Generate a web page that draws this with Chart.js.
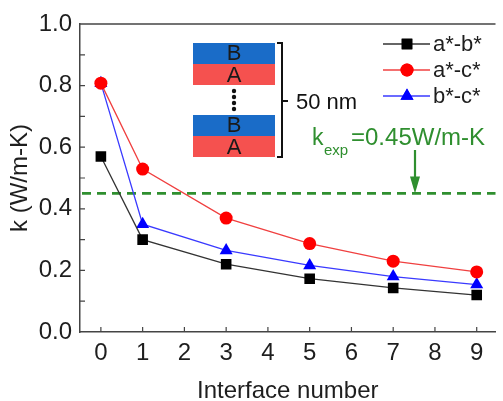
<!DOCTYPE html>
<html>
<head>
<meta charset="utf-8">
<script src="https://cdn.jsdelivr.net/npm/chart.js@4.4.0/dist/chart.umd.min.js"></script>
<style>
  html, body { margin: 0; padding: 0; background: #fff; }
  canvas { display: block; }
</style>
</head>
<body>
<canvas id="c" width="503" height="401"></canvas>
<script>
// ── Data ────────────────────────────────────────────────────────────────────
const interfaces = [0, 1, 3, 5, 7, 9];
const seriesNames = ['a*-b*', 'a*-c*', 'b*-c*'];
const kAB = [0.570, 0.300, 0.220, 0.173, 0.143, 0.120];
const kAC = [0.808, 0.529, 0.370, 0.287, 0.230, 0.195];
const kBC = [0.808, 0.350, 0.265, 0.216, 0.180, 0.154];
const kExp = 0.45;
const xTicks = [0, 1, 2, 3, 4, 5, 6, 7, 8, 9];
const yTicks = [0.0, 0.2, 0.4, 0.6, 0.8, 1.0];

const FONT  = '"Liberation Sans", Arial, sans-serif';
const GREEN = '#2f8f2f';
const AXIS  = '#444';
const TEXT  = '#1e1e1e';

const styles = [
  { color: '#000000', line: '#333333', point: 'rect',     r: 7.5 },
  { color: '#ff0000', line: '#f04040', point: 'circle',   r: 6.5 },
  { color: '#0000ff', line: '#3a3aff', point: 'triangle', r: 7.5 },
];

const toXY = vals => vals.map((v, i) => ({ x: interfaces[i], y: v }));

// ── Extra drawing: inward ticks, frame, inset, k_exp, legend ──────────────
const decor = {
  id: 'decor',
  beforeDatasetsDraw(chart) {
    const { ctx, chartArea: a, scales: { y } } = chart;
    const yk = y.getPixelForValue(kExp);
    ctx.save();
    ctx.strokeStyle = GREEN;
    ctx.lineWidth = 2.6;
    ctx.setLineDash([9, 6]);
    ctx.beginPath();
    ctx.moveTo(a.left + 2, yk);
    ctx.lineTo(a.right, yk);
    ctx.stroke();
    ctx.restore();
  },
  afterDraw(chart) {
    const { ctx, chartArea: a, scales: { x, y } } = chart;
    ctx.save();

    // frame top + axis ticks pointing inward
    ctx.strokeStyle = AXIS;
    ctx.lineWidth = 1.5;
    ctx.beginPath();
    ctx.moveTo(a.left, a.top);
    ctx.lineTo(a.right, a.top);
    ctx.stroke();
    ctx.lineWidth = 1.2;
    ctx.beginPath();
    xTicks.forEach(t => {
      const px = x.getPixelForValue(t);
      ctx.moveTo(px, a.bottom);
      ctx.lineTo(px, a.bottom - 5);
    });
    for (let i = 1; i < 10; i++) {
      const py = y.getPixelForValue(i / 10);
      ctx.moveTo(a.left, py);
      ctx.lineTo(a.left + 5, py);
    }
    ctx.stroke();

    // inset: B/A layer stack
    const drawPair = top => {
      ctx.fillStyle = '#1a6cc8';
      ctx.fillRect(193, top, 82, 21);
      ctx.fillStyle = '#f5514f';
      ctx.fillRect(193, top + 21, 82, 21);
      ctx.fillStyle = '#1a1a1a';
      ctx.font = '22px ' + FONT;
      ctx.textAlign = 'center';
      ctx.textBaseline = 'middle';
      ctx.fillText('B', 234, top + 11);
      ctx.fillText('A', 234, top + 33);
    };
    drawPair(43);
    drawPair(115);
    ctx.fillStyle = '#111';
    [91, 97, 103, 109].forEach(cy => {
      ctx.beginPath();
      ctx.arc(234, cy, 2.2, 0, Math.PI * 2);
      ctx.fill();
    });
    // bracket
    ctx.strokeStyle = '#111';
    ctx.lineWidth = 2;
    ctx.beginPath();
    ctx.moveTo(277, 43);
    ctx.lineTo(282, 43);
    ctx.lineTo(282, 157);
    ctx.lineTo(277, 157);
    ctx.moveTo(282, 101);
    ctx.lineTo(288, 101);
    ctx.stroke();
    ctx.fillStyle = '#111';
    ctx.font = '22px ' + FONT;
    ctx.textAlign = 'left';
    ctx.textBaseline = 'alphabetic';
    ctx.fillText('50 nm', 296, 109);

    // k_exp label and arrow
    ctx.fillStyle = GREEN;
    ctx.font = '23px ' + FONT;
    ctx.fillText('k', 312, 145);
    ctx.font = '15px ' + FONT;
    ctx.fillText('exp', 324, 155);
    ctx.font = '24px ' + FONT;
    ctx.fillText('=0.45W/m-K', 351, 145);
    const ax = 415, yk = y.getPixelForValue(kExp);
    ctx.strokeStyle = GREEN;
    ctx.lineWidth = 2.2;
    ctx.beginPath();
    ctx.moveTo(ax, 150);
    ctx.lineTo(ax, yk - 14);
    ctx.stroke();
    ctx.beginPath();
    ctx.moveTo(ax - 5, yk - 17);
    ctx.lineTo(ax + 5, yk - 17);
    ctx.lineTo(ax, yk);
    ctx.closePath();
    ctx.fill();

    // legend
    chart.data.datasets.forEach((ds, i) => {
      const ly = 44 + i * 26;
      ctx.strokeStyle = ds.borderColor;
      ctx.lineWidth = 1.3;
      ctx.beginPath();
      ctx.moveTo(383, ly);
      ctx.lineTo(430, ly);
      ctx.stroke();
      ctx.fillStyle = ds.pointBackgroundColor;
      ctx.strokeStyle = ds.pointBackgroundColor;
      Chart.helpers.drawPoint(ctx, { pointStyle: ds.pointStyle, radius: ds.pointRadius, borderWidth: 0, rotation: 0 }, 407, ly);
      ctx.fill();
      ctx.fillStyle = TEXT;
      ctx.font = '22px ' + FONT;
      ctx.textAlign = 'left';
      ctx.textBaseline = 'middle';
      ctx.fillText(ds.label, 433, ly + 1);
    });
    ctx.restore();
  }
};

const datasets = [kAB, kAC, kBC].map((vals, i) => ({
  label: seriesNames[i],
  data: toXY(vals),
  borderColor: styles[i].line,
  borderWidth: 1.3,
  pointStyle: styles[i].point,
  pointRadius: styles[i].r,
  pointHoverRadius: styles[i].r,
  pointBackgroundColor: styles[i].color,
  pointBorderColor: styles[i].color,
  pointBorderWidth: 0,
  tension: 0,
}));

new Chart(document.getElementById('c'), {
  type: 'line',
  data: { datasets },
  options: {
    responsive: false,
    animation: false,
    layout: { padding: { top: 24, right: 0, left: 0, bottom: 0 } },
    plugins: { legend: { display: false }, tooltip: { enabled: false } },
    scales: {
      x: {
        type: 'linear',
        min: -0.5,
        max: 9.45,
        afterBuildTicks: s => { s.ticks = xTicks.map(v => ({ value: v })); },
        afterFit: s => { s.height = 69; },
        grid: { display: false, drawTicks: false },
        border: { display: true, color: AXIS, width: 1.5 },
        ticks: { color: TEXT, font: { family: FONT, size: 24 }, padding: 7, maxRotation: 0, autoSkip: false },
        title: { display: true, text: 'Interface number', color: TEXT, font: { family: FONT, size: 24 }, padding: { top: 0, bottom: -5 } },
      },
      y: {
        min: 0,
        max: 1.0,
        afterBuildTicks: s => { s.ticks = yTicks.map(v => ({ value: v })); },
        afterFit: s => { s.width = 80; },
        grid: { display: false, drawTicks: false },
        border: { display: true, color: AXIS, width: 1.5 },
        ticks: { color: TEXT, font: { family: FONT, size: 24 }, padding: 8, callback: v => v.toFixed(1) },
        title: { display: true, text: 'k (W/m-K)', color: TEXT, font: { family: FONT, size: 24 }, padding: { top: 6, bottom: 0 } },
      },
    },
  },
  plugins: [decor],
});
</script>
</body>
</html>
